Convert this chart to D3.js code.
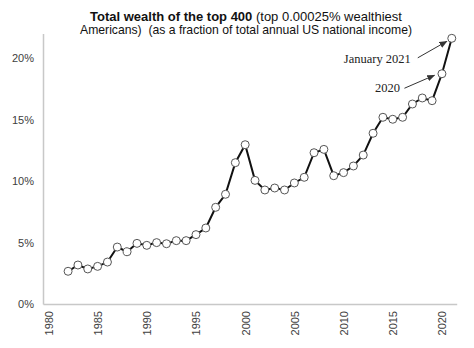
<!DOCTYPE html>
<html><head><meta charset="utf-8">
<script src="https://cdn.jsdelivr.net/npm/d3@7"></script>
<style>body{margin:0;background:#fff}svg{display:block}</style>
</head><body>
<svg id="c" width="474" height="348"></svg>
<script>
const years = [1982,1983,1984,1985,1986,1987,1988,1989,1990,1991,1992,1993,1994,1995,1996,1997,1998,1999,2000,2001,2002,2003,2004,2005,2006,2007,2008,2009,2010,2011,2012,2013,2014,2015,2016,2017,2018,2019,2020,2021];
const wealthShare = [2.66,3.17,2.85,3.06,3.41,4.63,4.25,4.93,4.77,4.99,4.9,5.15,5.15,5.64,6.18,7.86,8.92,11.49,12.95,10.05,9.27,9.43,9.27,9.84,10.3,12.3,12.57,10.43,10.68,11.22,12.11,13.88,15.18,15.02,15.18,16.26,16.75,16.53,18.72,21.6];
const xTicks = [1980,1985,1990,1995,2000,2005,2010,2015,2020];
const yTicks = [0,5,10,15,20];
const titleBold = "Total wealth of the top 400";
const titleRest = " (top 0.00025% wealthiest";
const titleLine2 = "Americans)  (as a fraction of total annual US national income)";
const annotations = [
  {label:"January 2021", year:2021},
  {label:"2020", year:2020}
];

const svg = d3.select("#c");
const x = d3.scaleLinear().domain([1979.45, 2021.5]).range([43, 456.7]);
const y = d3.scaleLinear().domain([0, 22]).range([304, 33.4]);
const axisColor = "#c8c8c8";
const labelColor = "#404040";

// axes
const gx = svg.append("g").attr("transform", `translate(0,${y(0)})`)
  .call(d3.axisBottom(x).tickValues(xTicks).tickFormat(d3.format("d")).tickSize(0).tickPadding(0));
gx.select(".domain").attr("stroke", axisColor).attr("stroke-width", 1.5);
gx.selectAll("text")
  .attr("transform", "rotate(-90)")
  .attr("text-anchor", "end")
  .attr("dy", "0.35em")
  .attr("x", -7)
  .attr("y", 0)
  .attr("fill", labelColor)
  .style("font-family", "Liberation Sans, Arial, sans-serif")
  .style("font-size", "11px");

const gy = svg.append("g").attr("transform", `translate(${x.range()[0]},0)`)
  .call(d3.axisLeft(y).tickValues(yTicks).tickFormat(d => d + "%").tickSize(0).tickPadding(9));
gy.select(".domain").attr("stroke", axisColor).attr("stroke-width", 1.5);
gy.selectAll("text")
  .attr("fill", labelColor)
  .style("font-family", "Liberation Sans, Arial, sans-serif")
  .style("font-size", "11px");

// line
const data = years.map((yr, i) => ({yr, v: wealthShare[i]}));
svg.append("path").datum(data)
  .attr("fill", "none").attr("stroke", "#111").attr("stroke-width", 2)
  .attr("d", d3.line().x(d => x(d.yr)).y(d => y(d.v)));
svg.selectAll("circle.pt").data(data).join("circle")
  .attr("class", "pt")
  .attr("cx", d => x(d.yr)).attr("cy", d => y(d.v)).attr("r", 4)
  .attr("fill", "#fff").attr("stroke", "#555").attr("stroke-width", 1);

// title
const title = svg.append("text").attr("x", 246).attr("y", 20.5)
  .attr("text-anchor", "middle")
  .style("font-family", "Liberation Sans, Arial, sans-serif")
  .style("font-size", "13px").attr("fill", "#111");
title.append("tspan").attr("font-weight", "bold").text(titleBold);
title.append("tspan").text(titleRest);
svg.append("text").attr("x", 246).attr("y", 33.5)
  .attr("text-anchor", "middle")
  .style("white-space", "pre")
  .style("font-family", "Liberation Sans, Arial, sans-serif")
  .style("font-size", "12.2px").attr("fill", "#111")
  .text(titleLine2);

// annotations
const defs = svg.append("defs");
defs.append("marker").attr("id", "ah").attr("viewBox", "0 0 10 10")
  .attr("refX", 9).attr("refY", 5).attr("markerWidth", 8).attr("markerHeight", 8)
  .attr("orient", "auto-start-reverse")
  .append("path").attr("d", "M0,1 L10,5 L0,9 z").attr("fill", "#333");

const offsets = {
  "January 2021": {tx:-41, ty:25, ax0:-34, ay0:19.5, ax1:-5, ay1:3},
  "2020": {tx:-42, ty:18, ax0:-37.5, ay0:14.5, ax1:-7.5, ay1:1.5}
};
annotations.forEach(a => {
  const d = data.find(p => p.yr === a.year);
  const px = x(d.yr), py = y(d.v), o = offsets[a.label];
  svg.append("text").attr("x", px + o.tx).attr("y", py + o.ty)
    .attr("text-anchor", "end")
    .style("font-family", "Liberation Serif, Times New Roman, serif")
    .style("font-size", "12.5px").attr("fill", "#222")
    .text(a.label);
  svg.append("line")
    .attr("x1", px + o.ax0).attr("y1", py + o.ay0)
    .attr("x2", px + o.ax1).attr("y2", py + o.ay1)
    .attr("stroke", "#333").attr("stroke-width", 1)
    .attr("marker-end", "url(#ah)");
});
</script>
</body></html>
